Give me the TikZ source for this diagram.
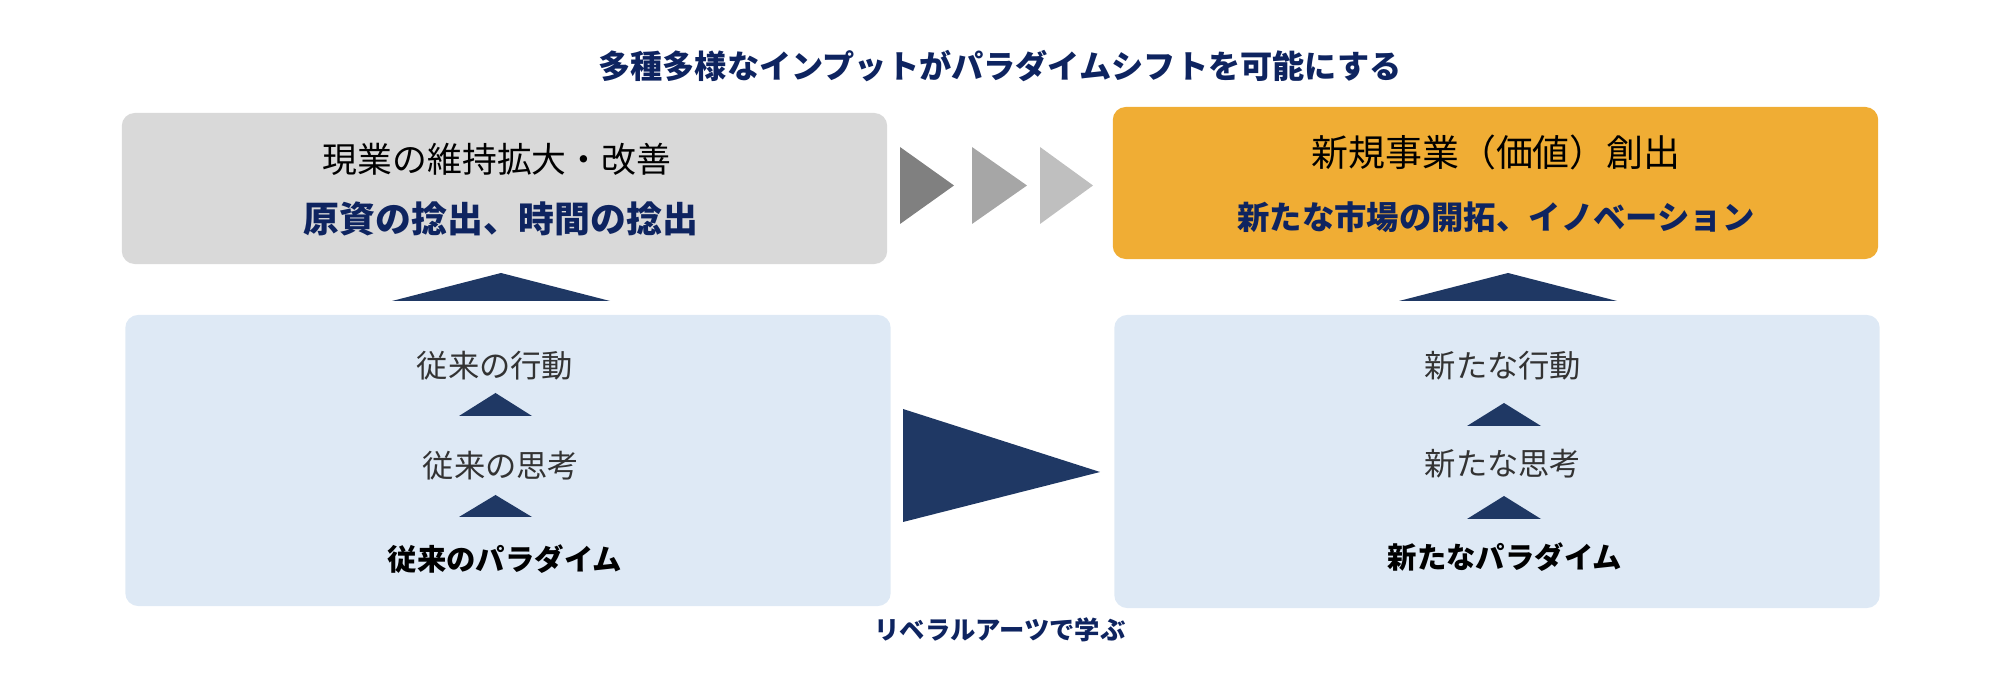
\documentclass[tikz,border=0pt]{standalone}
\usepackage{fontspec}
\setmainfont{Noto Sans CJK JP}
\usetikzlibrary{positioning}

\definecolor{navyfill}{HTML}{1F3864}
\definecolor{navytext}{HTML}{0E2460}
\definecolor{panelgray}{HTML}{D9D9D9}
\definecolor{panelorange}{HTML}{F0AD34}
\definecolor{panelblue}{HTML}{DEE9F5}
\definecolor{textgray}{HTML}{333333}

\newcommand{\fsize}[1]{\fontsize{#1}{#1}\selectfont}

\tikzset{
  panel/.style={rounded corners=0.13cm, minimum width=7.65cm, inner sep=0pt},
  label/.style={inner sep=0pt, anchor=center},
  headline/.style={label, font=\bfseries\fsize{9.15pt}, text=navytext},
  plain/.style={label, font=\fsize{10pt}},
  stepline/.style={label, font=\fsize{8.9pt}, text=textgray},
  keyline/.style={label, font=\bfseries\fsize{8.35pt}, text=black},
}

\begin{document}
\begin{tikzpicture}[x=0.01cm, y=-0.01cm]
  \useasboundingbox (0,0) rectangle (2000,677);

  % title
  \node[headline] (title) at (1000,66) {多種多様なインプットがパラダイムシフトを可能にする};

  % upper panels
  \node[panel, fill=panelgray, minimum height=1.51cm] (now) at (504.5,188.5) {};
  \node[panel, fill=panelorange, minimum height=1.52cm] (new) at (1495.5,183) {};

  \node[plain, font=\fsize{9.9pt}] (nowA) at (497,159) {現業の維持拡大・改善};
  \node[headline, font=\bfseries\fsize{10.2pt}] (nowB) at (501,219) {原資の捻出、時間の捻出};
  \node[plain, font=\fsize{10.5pt}] (newA) at (1496,152) {新規事業（価値）創出};
  \node[headline, font=\bfseries\fsize{9.2pt}] (newB) at (1496,217) {新たな市場の開拓、イノベーション};

  % grey chevrons between upper panels
  \fill[black!50] (900,147) -- (954,185.5) -- (900,224) -- cycle;
  \fill[black!35] (972,147) -- (1027,185.5) -- (972,224) -- cycle;
  \fill[black!25] (1040,147) -- (1093,185.5) -- (1040,224) -- cycle;

  % lower panels
  \node[panel, fill=panelblue, minimum height=2.91cm] (old) at (508,460.5) {};
  \node[panel, fill=panelblue, minimum height=2.93cm] (fresh) at (1497,461.5) {};

  % wide triangles up to the upper panels
  \fill[navyfill] (392,301) -- (501,273) -- (610,301) -- cycle;
  \fill[navyfill] (1399,301) -- (1508,273) -- (1617,301) -- cycle;

  % left column
  \node[stepline] (oldAct) at (495,366) {従来の行動};
  \node[stepline] (oldThink) at (501,466) {従来の思考};
  \node[keyline] (oldPar) at (505,559) {従来のパラダイム};
  \fill[navyfill] (459,416) -- (495.5,393) -- (532,416) -- cycle;
  \fill[navyfill] (459,517) -- (495.5,495) -- (532,517) -- cycle;

  % right column
  \node[stepline] (newAct) at (1503,366) {新たな行動};
  \node[stepline] (newThink) at (1503,464) {新たな思考};
  \node[keyline] (newPar) at (1505,557) {新たなパラダイム};
  \fill[navyfill] (1467,426) -- (1504,403) -- (1541,426) -- cycle;
  \fill[navyfill] (1467,519) -- (1504,496) -- (1541,519) -- cycle;

  % big arrow between lower panels
  \fill[navyfill] (903,409) -- (1100,472) -- (903,522) -- cycle;
  \node[headline, font=\bfseries\fsize{7.2pt}] (liberal) at (1000,630) {リベラルアーツで学ぶ};
\end{tikzpicture}
\end{document}
